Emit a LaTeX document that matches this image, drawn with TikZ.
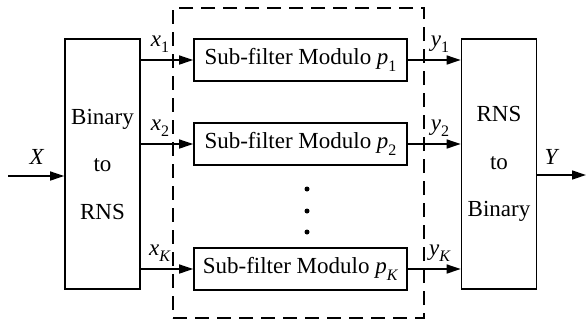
\documentclass[tikz,border=0pt]{standalone}
\usepackage{fontspec}
\setmainfont{Liberation Serif}
\usetikzlibrary{arrows.meta}
\newcommand{\vsub}[2]{\textit{#1}\raisebox{-0.28em}{\fontsize{16}{16}\selectfont #2}}
\tikzset{
  blk/.style={draw, line width=1.6pt, inner sep=0pt, align=center},
  conv/.style={blk, minimum width=75pt, minimum height=250pt, font=\fontsize{23}{47.5}\selectfont},
  sub/.style={blk, minimum width=213pt, minimum height=42pt, font=\fontsize{23}{26}\selectfont},
  arr/.style={line width=1.4pt, -{Triangle[length=14pt,width=9pt]}},
  lbl/.style={inner sep=0pt, font=\fontsize{23}{26}\selectfont},
  grp/.style={draw, line width=1.2pt, dash pattern=on 14pt off 8pt, inner sep=0pt, minimum width=251pt, minimum height=310pt},
  dotc/.style={circle, fill, inner sep=0pt, minimum size=5pt}
}
\begin{document}
\begin{tikzpicture}[x=1pt,y=-1pt]
\useasboundingbox (0,0) rectangle (586,322);
\node[grp] (group) at (298.5,163) {};
\node[conv] (bin) at (102.5,164) {Binary\\to\\RNS};
\node[conv] (rb) at (499,164) {RNS\\to\\Binary};
\node[sub] (s1) at (300.5,60) {Sub-filter Modulo \vsub{p}{1}};
\node[sub] (s2) at (300.5,144) {Sub-filter Modulo \vsub{p}{2}};
\node[sub] (sk) at (300.5,269) {Sub-filter Modulo \vsub{p}{\textit{K}}};
\node[dotc] (d1) at (307,189) {};
\node[dotc] (d2) at (307,211) {};
\node[dotc] (d3) at (307,232) {};
\draw[arr] (bin.east |- s1.west) -- (s1.west);
\draw[arr] (bin.east |- s2.west) -- (s2.west);
\draw[arr] (bin.east |- sk.west) -- (sk.west);
\draw[arr] (s1.east) -- (rb.west |- s1.east);
\draw[arr] (s2.east) -- (rb.west |- s2.east);
\draw[arr] (sk.east) -- (rb.west |- sk.east);
\node[lbl] (lx1) at (160,44) {\vsub{x}{1}};
\node[lbl] (lx2) at (160,128) {\vsub{x}{2}};
\node[lbl] (lxk) at (160,253) {\vsub{x}{\textit{K}}};
\node[lbl] (ly1) at (440,44) {\vsub{y}{1}};
\node[lbl] (ly2) at (440,128) {\vsub{y}{2}};
\node[lbl] (lyk) at (440,253) {\vsub{y}{\textit{K}}};
\coordinate (xin) at (8,176);
\coordinate (yout) at (586,175);
\draw[arr] (xin) -- (xin -| bin.west);
\draw[arr] (rb.east |- yout) -- (yout);
\node[lbl] (lX) at (37,157) {\textit{X}};
\node[lbl] (lY) at (552,157) {\textit{Y}};
\end{tikzpicture}
\end{document}
